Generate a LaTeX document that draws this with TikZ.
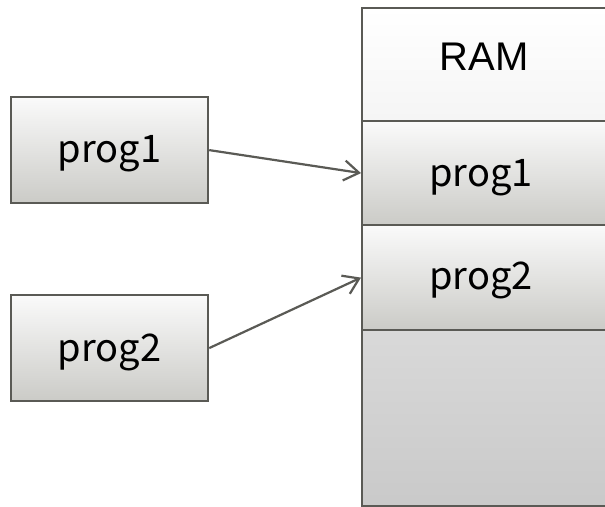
\documentclass[tikz,border=0pt]{standalone}
\usepackage{fontspec}
\setmainfont{Liberation Sans}
\newfontfamily\progfont{Noto Sans CJK JP}
\usetikzlibrary{arrows.meta}
\definecolor{edge}{HTML}{5A5A55}
\definecolor{shadeTop}{HTML}{FAFAFA}
\definecolor{shadeBot}{HTML}{CBCBC7}
\tikzset{
  box/.style={draw=edge, line width=2.2pt, top color=shadeTop, bottom color=shadeBot,
    minimum width=197pt, minimum height=106pt, inner sep=0pt, anchor=north west},
  progtext/.style={font=\progfont\fontsize{38}{40}\selectfont, inner sep=0pt},
  ramcell/.style={draw=edge, line width=2.2pt, minimum width=262pt, inner sep=0pt,
    anchor=north west},
  link/.style={draw=edge, line width=2.2pt, -{Straight Barb[length=15pt,width=20pt,line width=2.2pt]}},
}
\begin{document}
\begin{tikzpicture}[x=1pt,y=-1pt]
\useasboundingbox (0,0) rectangle (605,506);
\fill[white] (0,0) rectangle (605,506);
% stand-alone programs
\node[box] (p1) at (10,96) {};
\node[box] (p2) at (10,294) {};
\node[progtext] (p1lbl) at ([yshift=-4pt]p1.center) {prog1};
\node[progtext] (p2lbl) at ([yshift=-4pt]p2.center) {prog2};
% memory column, running past the right edge
\begin{scope}
\clip (0,0) rectangle (605,506);
\node[ramcell, minimum height=113pt, top color=white, bottom color=white!96!black] (ram) at (361,7) {};
\node[ramcell, minimum height=104pt, top color=shadeTop, bottom color=shadeBot] (r1) at (361,120) {};
\node[ramcell, minimum height=105pt, top color=shadeTop, bottom color=shadeBot] (r2) at (361,224) {};
\node[ramcell, minimum height=176pt, top color=white!85!black, bottom color=white!79!black] (r3) at (361,329) {};
\end{scope}
\node[font=\fontsize{40}{42}\selectfont] (ramlbl) at (484,57) {RAM};
\node[progtext] (r1lbl) at (481,178) {prog1};
\node[progtext] (r2lbl) at (481,280) {prog2};
% loading arrows
\draw[link] (p1.east) -- (r1.west);
\draw[link] (p2.east) -- (r2.west);
\end{tikzpicture}
\end{document}
